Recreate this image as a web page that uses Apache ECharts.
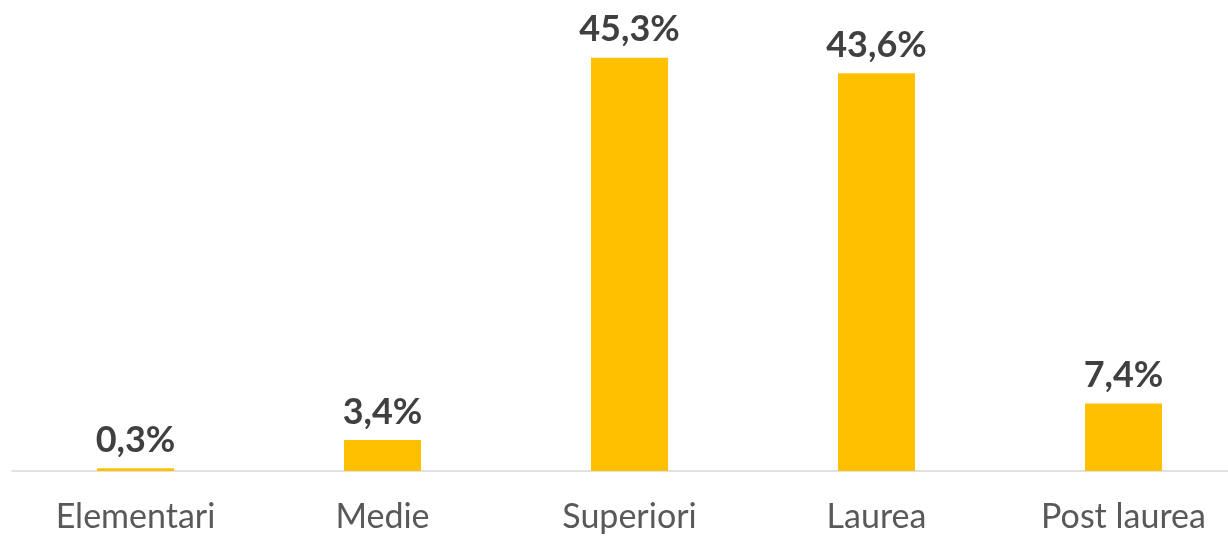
<!DOCTYPE html>
<html>
<head>
<meta charset="utf-8">
<script src="https://cdn.jsdelivr.net/npm/echarts@6/dist/echarts.min.js"></script>
<style>
  html, body { margin: 0; padding: 0; background: #fff; }
  #chart { width: 1228px; height: 538px; }
</style>
</head>
<body>
<div id="chart"></div>
<script>
// livello di istruzione
var categories = ['Elementari', 'Medie', 'Superiori', 'Laurea', 'Post laurea'];
var values = [0.3, 3.4, 45.3, 43.6, 7.4];

var chart = echarts.init(document.getElementById('chart'));
var option = {
  animation: false,
  grid: { left: 12, width: 1235, top: 15, bottom: 67, outerBoundsMode: 'none' },
  xAxis: {
    type: 'category',
    data: categories,
    axisTick: { show: false },
    axisLine: { lineStyle: { color: '#D9D9D9', width: 1.5 } },
    axisLabel: {
      color: '#595959',
      fontFamily: 'Lato',
      fontSize: 34,
      margin: 29
    }
  },
  yAxis: {
    type: 'value',
    min: 0,
    max: 50,
    show: false,
    splitLine: { show: false }
  },
  series: [{
    type: 'bar',
    data: values,
    barWidth: 77,
    itemStyle: { color: '#FFC000' },
    label: {
      show: true,
      position: 'top',
      distance: 10,
      color: '#404040',
      fontFamily: 'Lato',
      fontWeight: 'bold',
      fontSize: 36,
      formatter: function (p) {
        return p.value.toFixed(1).replace('.', ',') + '%';
      }
    }
  }]
};
chart.setOption(option);
</script>
</body>
</html>
